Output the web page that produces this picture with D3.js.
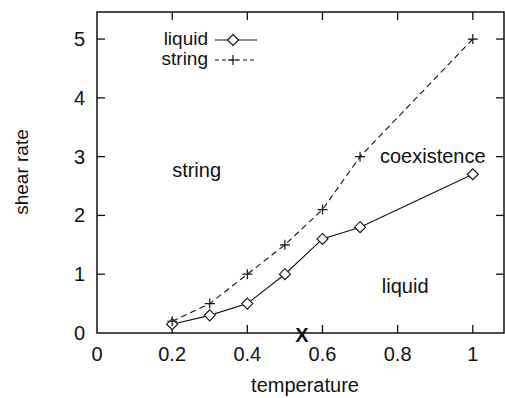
<!DOCTYPE html>
<html>
<head>
<meta charset="utf-8">
<script src="https://cdn.jsdelivr.net/npm/d3@7"></script>
<style>
  body { margin: 0; background: #fff; }
  text { font-family: "Liberation Sans", Arial, sans-serif; fill: #111; }
</style>
</head>
<body>
<script>
const temps = [0.2, 0.3, 0.4, 0.5, 0.6, 0.7, 1.0];
const liquidRate = [0.15, 0.3, 0.5, 1.0, 1.6, 1.8, 2.7];
const stringRate = [0.2, 0.5, 1.0, 1.5, 2.1, 3.0, 5.0];
const xTicks = [0, 0.2, 0.4, 0.6, 0.8, 1];
const yTicks = [0, 1, 2, 3, 4, 5];
const regionLabels = [
  { text: 'string', t: 0.2, r: 2.66 },
  { text: 'coexistence', t: 0.753, r: 2.9 },
  { text: 'liquid', t: 0.758, r: 0.68 }
];
const markX = 0.545;

const width = 505, height = 398;
const margin = { left: 97, right: 1, top: 12, bottom: 65 };
const fs = 20;

const svg = d3.select('body').append('svg')
  .attr('width', width)
  .attr('height', height);

const x = d3.scaleLinear().domain([0, 1.083]).range([margin.left, width - margin.right]);
const y = d3.scaleLinear().domain([0, 5.46]).range([height - margin.bottom, margin.top]);

// frame
svg.append('rect')
  .attr('x', x(0)).attr('y', y(5.46))
  .attr('width', x(1.083) - x(0)).attr('height', y(0) - y(5.46))
  .attr('fill', 'none').attr('stroke', '#111').attr('stroke-width', 1.5);

// inward ticks on all four sides
const tickLen = 8;
const ticks = svg.append('g').attr('stroke', '#111').attr('stroke-width', 1.3);
xTicks.filter(d => d > 0).forEach(d => {
  ticks.append('line').attr('x1', x(d)).attr('x2', x(d)).attr('y1', y(0)).attr('y2', y(0) - tickLen);
  ticks.append('line').attr('x1', x(d)).attr('x2', x(d)).attr('y1', y(5.46)).attr('y2', y(5.46) + tickLen);
});
yTicks.filter(d => d > 0).forEach(d => {
  ticks.append('line').attr('x1', x(0)).attr('x2', x(0) + tickLen).attr('y1', y(d)).attr('y2', y(d));
  ticks.append('line').attr('x1', x(1.083)).attr('x2', x(1.083) - tickLen).attr('y1', y(d)).attr('y2', y(d));
});

// tick labels
svg.append('g').selectAll('text')
  .data(xTicks).enter().append('text')
  .attr('x', d => x(d)).attr('y', y(0) + 28)
  .attr('text-anchor', 'middle').attr('font-size', fs)
  .text(d => d);
svg.append('g').selectAll('text')
  .data(yTicks).enter().append('text')
  .attr('x', x(0) - 12).attr('y', d => y(d) + 7)
  .attr('text-anchor', 'end').attr('font-size', fs)
  .text(d => d);

// axis titles
svg.append('text')
  .attr('x', 305).attr('y', 392)
  .attr('text-anchor', 'middle').attr('font-size', fs)
  .text('temperature');
svg.append('text')
  .attr('transform', 'translate(28,172) rotate(-90)')
  .attr('text-anchor', 'middle').attr('font-size', 19)
  .text('shear rate');

// lines
const line = d3.line().x(d => x(d[0])).y(d => y(d[1]));
const liquidPts = temps.map((t, i) => [t, liquidRate[i]]);
const stringPts = temps.map((t, i) => [t, stringRate[i]]);

svg.append('path').datum(stringPts)
  .attr('d', line).attr('fill', 'none').attr('stroke', '#111')
  .attr('stroke-width', 1.1).attr('stroke-dasharray', '6,4');
svg.append('path').datum(liquidPts)
  .attr('d', line).attr('fill', 'none').attr('stroke', '#111')
  .attr('stroke-width', 1.1);

const diamond = 'M0,-5.5L5.5,0L0,5.5L-5.5,0Z';
const plus = 'M-5,0H5M0,-5V5';

svg.append('g').selectAll('path')
  .data(liquidPts).enter().append('path')
  .attr('transform', d => 'translate(' + x(d[0]) + ',' + y(d[1]) + ')')
  .attr('d', diamond).attr('fill', '#fff').attr('stroke', '#111').attr('stroke-width', 1.1);
svg.append('g').selectAll('path')
  .data(stringPts).enter().append('path')
  .attr('transform', d => 'translate(' + x(d[0]) + ',' + y(d[1]) + ')')
  .attr('d', plus).attr('fill', 'none').attr('stroke', '#111').attr('stroke-width', 1.2);

// region labels
svg.append('g').selectAll('text')
  .data(regionLabels).enter().append('text')
  .attr('x', d => x(d.t)).attr('y', d => y(d.r))
  .attr('font-size', fs)
  .text(d => d.text);

// X mark on axis
svg.append('text')
  .attr('x', x(markX)).attr('y', y(0) + 9)
  .attr('text-anchor', 'middle').attr('font-size', fs).attr('font-weight', 'bold')
  .text('X');

// legend
const leg = svg.append('g');
leg.append('text').attr('x', 208).attr('y', 45).attr('text-anchor', 'end').attr('font-size', 19).text('liquid');
leg.append('text').attr('x', 208).attr('y', 65).attr('text-anchor', 'end').attr('font-size', 19).text('string');
leg.append('line').attr('x1', 215).attr('x2', 257).attr('y1', 40).attr('y2', 40)
  .attr('stroke', '#111').attr('stroke-width', 1.1);
leg.append('path').attr('transform', 'translate(233,40)').attr('d', diamond)
  .attr('fill', '#fff').attr('stroke', '#111').attr('stroke-width', 1.1);
leg.append('line').attr('x1', 215).attr('x2', 257).attr('y1', 60).attr('y2', 60)
  .attr('stroke', '#111').attr('stroke-width', 1.1).attr('stroke-dasharray', '4,3');
leg.append('path').attr('transform', 'translate(233,60)').attr('d', plus)
  .attr('fill', 'none').attr('stroke', '#111').attr('stroke-width', 1.2);
</script>
</body>
</html>
